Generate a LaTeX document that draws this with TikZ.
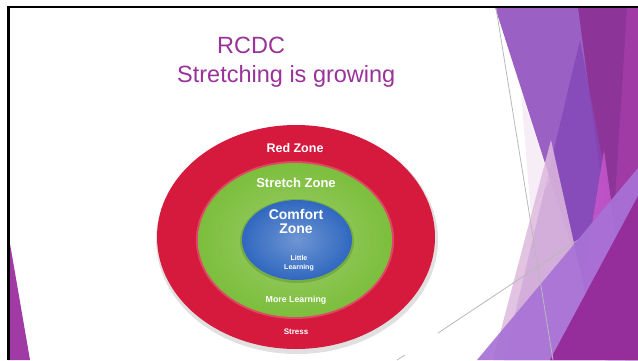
\documentclass[tikz,border=0pt]{standalone}
\usepackage{fontspec}
\setmainfont{Liberation Sans}
\usepackage{tikz}
\usepackage{xcolor}
\definecolor{titlepurple}{RGB}{153,51,153}
\definecolor{zonered}{RGB}{214,26,62}
\definecolor{zonegreen}{RGB}{124,190,60}
\definecolor{zoneblue}{RGB}{48,104,192}
\definecolor{lavender}{RGB}{154,96,196}
\definecolor{darkmag}{RGB}{140,52,152}
\definecolor{magent}{RGB}{160,58,165}
\definecolor{facetviolet}{RGB}{132,72,184}
\definecolor{lilac}{RGB}{222,186,222}
\definecolor{midlilac}{RGB}{168,114,214}
\definecolor{botmag}{RGB}{149,45,154}
\definecolor{pinkmag}{RGB}{194,84,200}

\begin{document}
\begin{tikzpicture}[x=1pt, y=-1pt,
  zonetext/.style={text=white, inner sep=0, anchor=base},
  facetline/.style={gray!55, line width=.8pt}]
\useasboundingbox (0,0) rectangle (638,360);
\fill[white] (0,0) rectangle (638,360);

% facets on the right
\fill[lavender] (495,7) -- (638,7) -- (638,360) -- (608,360) -- cycle;
\fill[darkmag] (578,7) -- (638,7) -- (638,360) -- (625,360) -- cycle;
\fill[magent] (627,7) -- (638,7) -- (638,360) -- (605,360) -- cycle;
\fill[facetviolet, opacity=.8] (580,40) -- (640,360) -- (504,360) -- cycle;
\fill[pinkmag, opacity=.9] (604,150) -- (618,250) -- (575,330) -- cycle;
\fill[lilac!50, opacity=.5] (521,92) -- (550,180) -- (531,215) -- cycle;
\fill[lilac, opacity=.85] (551,140) -- (600,360) -- (493,360) -- cycle;
\draw[facetline] (578,240) -- (438,333);
\draw[facetline] (405,355) -- (397,360);
\fill[midlilac, opacity=.92] (477,360) -- (638,168) -- (638,360) -- cycle;
\fill[botmag] (550,360) -- (638,196) -- (638,360) -- cycle;
\draw[facetline] (496,8) -- (553,360);

% facet bottom left
\fill[magent] (8,232) -- (30,360) -- (8,360) -- cycle;

% slide frame
\draw[line width=2.5pt, line join=miter] (8.5,360) -- (8.5,7) -- (638,7);

% title
\node[anchor=base west, inner sep=0, text=titlepurple, font=\fontsize{23.5}{28}\selectfont] (title) at (217,53) {RCDC};
\node[anchor=base west, inner sep=0, text=titlepurple, font=\fontsize{23.5}{28}\selectfont] (subtitle) at (177,82) {Stretching is growing};

% zones
\fill[black, opacity=.12] (297,240) ellipse (141 and 114);
\fill[zonered] (296,237) ellipse (139 and 112);
\fill[zonered!80!white] (295,240) ellipse (99 and 79);
\shade[inner color=zonegreen!75!white, outer color=zonegreen] (295,240) ellipse (97 and 77);
\fill[zonegreen!60!black, opacity=.3] (297,241) ellipse (57 and 42);
\shade[inner color=zoneblue!70!white, outer color=zoneblue] (297,240) ellipse (55 and 40);

\node[zonetext, font=\bfseries\fontsize{12.5}{14}\selectfont] (redzone) at (295,152.5) {Red Zone};
\node[zonetext, font=\bfseries\fontsize{13}{15}\selectfont] (stretchzone) at (296,187) {Stretch Zone};
\node[zonetext, font=\bfseries\fontsize{14}{16}\selectfont] (comfort) at (296,219) {Comfort};
\node[zonetext, font=\bfseries\fontsize{14}{16}\selectfont] (comfortzone) at (296,233) {Zone};
\node[zonetext, font=\bfseries\fontsize{7}{8}\selectfont] (little) at (299,260) {Little};
\node[zonetext, font=\bfseries\fontsize{7}{8}\selectfont] (learning) at (299,269) {Learning};
\node[zonetext, font=\bfseries\fontsize{8.8}{10}\selectfont] (more) at (296,302) {More Learning};
\node[zonetext, font=\bfseries\fontsize{8}{9}\selectfont] (stress) at (296,334) {Stress};
\end{tikzpicture}
\end{document}
